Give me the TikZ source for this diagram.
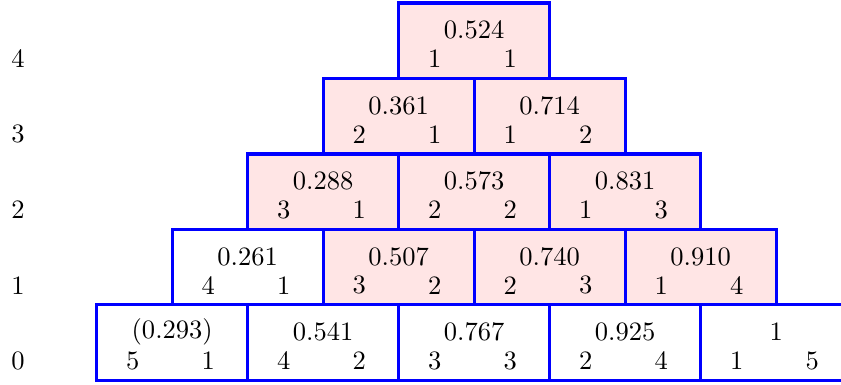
\documentclass[tikz,border=0pt]{standalone}
\usepackage{amsmath}
\usepackage[usenames,dvipsnames,svgnames,table]{xcolor}
\usetikzlibrary{calc}
\colorlet{cellpink}{red!10}

\begin{document}
\begin{tikzpicture}[cell/.style={draw=blue,very thick,minimum width=2cm,minimum height=1cm,
    inner sep=0pt,anchor=south west}]
\useasboundingbox (0,-.03) rectangle (11.14,5.06);
\clip (0,-.03) rectangle (11.14,5.06);
\foreach \r in {0,...,4}
  \node (row\r) at (.24,\r+.28) {\r};
\foreach \r/\i/\v/\c in {4/0/0.524/cellpink, 3/0/0.361/cellpink, 3/1/0.714/cellpink,
    2/0/0.288/cellpink, 2/1/0.573/cellpink, 2/2/0.831/cellpink,
    1/0/0.261/white, 1/1/0.507/cellpink, 1/2/0.740/cellpink, 1/3/0.910/cellpink,
    0/0/(0.293)/white, 0/1/0.541/white, 0/2/0.767/white, 0/3/0.925/white, 0/4/1/white}{
  \pgfmathsetmacro\x{1.26+\r+2*\i}
  \pgfmathtruncatemacro\lft{5-\r-\i}
  \pgfmathtruncatemacro\rgt{\i+1}
  \node[cell,fill=\c] (c\r\i) at (\x,\r) {};
  \node (v\r\i) at ($(c\r\i.south)+(0,.66)$) {\v};
  \node (l\r\i) at ($(c\r\i.south west)+(.5,.28)$) {\lft};
  \node (n\r\i) at ($(c\r\i.south west)+(1.5,.28)$) {\rgt};
}
\end{tikzpicture}
\end{document}
